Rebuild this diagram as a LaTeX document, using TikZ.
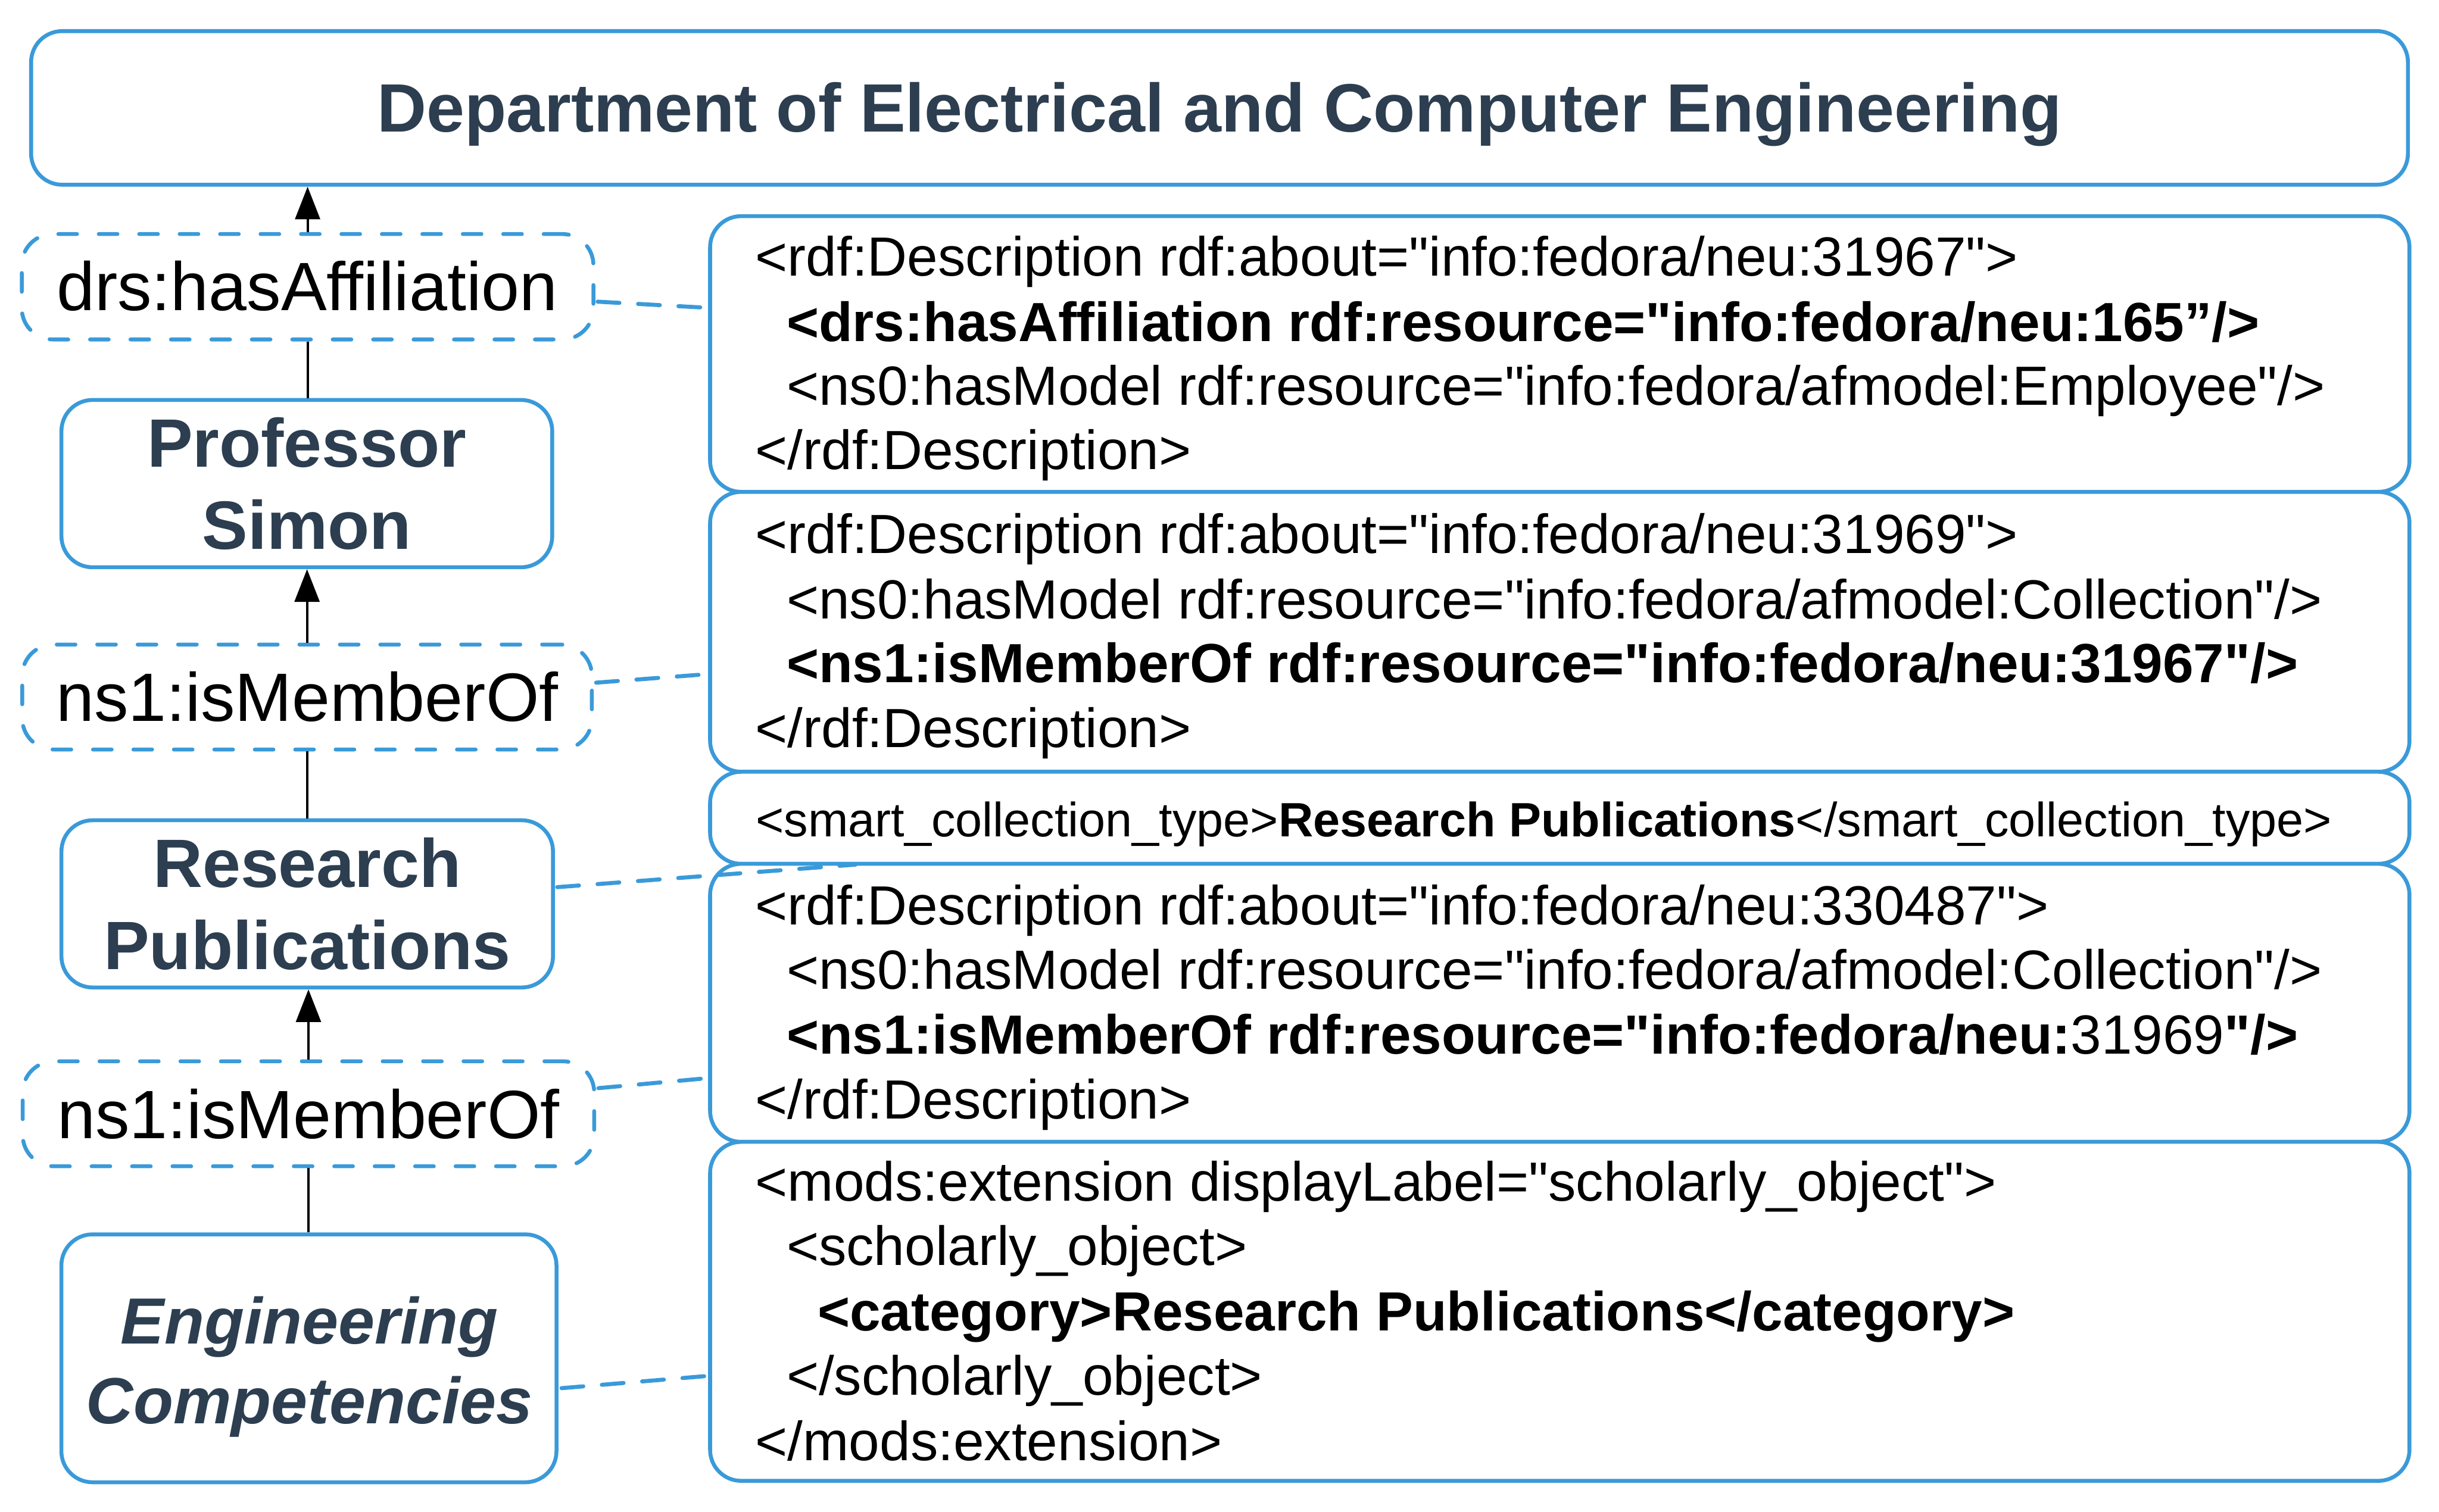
\documentclass[tikz,border=0pt]{standalone}
\usepackage{fontspec}
\setmainfont{Liberation Sans}[Ligatures=TeXOff]
\usetikzlibrary{arrows.meta,calc}
\definecolor{bl}{HTML}{3A9AD9}
\definecolor{dk}{HTML}{2C3E50}
\begin{document}
\begin{tikzpicture}[x=1pt,y=-1pt,
  box/.style={draw=bl,line width=2.5pt,rounded corners=20pt,fill=white,inner sep=0pt},
  dbox/.style={draw=bl,line width=2.5pt,rounded corners=20pt,dash pattern=on 12pt off 14pt,line cap=round,fill=white,inner sep=0pt},
  big/.style={font=\fontsize{44}{52}\selectfont,inner sep=0pt,anchor=base},
  bigit/.style={font=\fontsize{42}{50}\selectfont\bfseries\itshape,inner sep=0pt,anchor=base},
  code/.style={font=\fontsize{35.5}{41.6}\selectfont,inner sep=0pt,anchor=base west},
  smallcode/.style={font=\fontsize{31}{36}\selectfont,inner sep=0pt,anchor=base west},
  arr/.style={line width=1.5pt,-{Triangle[length=21pt,width=16pt]}},
  ln/.style={line width=1.5pt},
  conn/.style={draw=bl,line width=2.6pt,dash pattern=on 14pt off 12pt,line cap=round}]

\path[use as bounding box] (0,0) rectangle (1568,972);

% ---------- boxes ----------
\node[box,minimum width=1528pt,minimum height=98.8pt] (top) at (784,69.4) {};
\node[dbox,minimum width=367.5pt,minimum height=67.8pt] (drs) at (197.75,184.4) {};
\node[box,minimum width=315.5pt,minimum height=107.6pt] (prof) at (197.25,311) {};
\node[dbox,minimum width=366.2pt,minimum height=67.5pt] (ns1a) at (197.4,448.25) {};
\node[box,minimum width=316pt,minimum height=107.5pt] (res) at (197.5,581.25) {};
\node[dbox,minimum width=367.4pt,minimum height=67.5pt] (ns1b) at (198.3,716.25) {};
\node[box,minimum width=318.3pt,minimum height=159.4pt] (eng) at (198.6,873.5) {};

\node[box,minimum width=1092.5pt,minimum height=177.3pt] (A) at (1002.75,227.65) {};
\node[box,minimum width=1092.5pt,minimum height=180pt] (B) at (1002.75,406.3) {};
\node[box,minimum width=1092.5pt,minimum height=59.2pt] (C) at (1002.75,525.9) {};
\node[box,minimum width=1092.5pt,minimum height=178.8pt] (D) at (1002.75,644.9) {};
\node[box,minimum width=1092.5pt,minimum height=218pt] (E) at (1002.75,843.3) {};

% ---------- left texts ----------
\node[big,text=dk] (ttitle) at (784,84.7) {\bfseries Department of Electrical and Computer Engineering};
\node[big] (tdrs) at (197.5,199.5) {drs:hasAffiliation};
\node[big,text=dk] (tprof1) at (197.3,300.4) {\bfseries Professor};
\node[big,text=dk] (tprof2) at (197.3,353.3) {\bfseries Simon};
\node[big] (tns1a) at (197.5,463.8) {ns1:isMemberOf};
\node[big,text=dk] (tres1) at (197.5,570.5) {\bfseries Research};
\node[big,text=dk] (tres2) at (197.5,623.5) {\bfseries Publications};
\node[big] (tns1b) at (198.3,732) {ns1:isMemberOf};
\node[bigit,text=dk] (teng1) at (199,864.3) {Engineering};
\node[bigit,text=dk] (teng2) at (199,915.3) {Competencies};

% ---------- right texts ----------
\node[code] (a1) at (485.5,177.5) {<rdf:Description rdf:about="info:fedora/neu:31967">};
\node[code] (a2) at (505.5,219.4) {\bfseries <drs:hasAffiliation rdf:resource="info:fedora/neu:165”/>};
\node[code] (a3) at (505.5,260.6) {<ns0:hasModel rdf:resource="info:fedora/afmodel:Employee"/>};
\node[code] (a4) at (485.5,302) {</rdf:Description>};

\node[code] (b1) at (485.5,356) {<rdf:Description rdf:about="info:fedora/neu:31969">};
\node[code] (b2) at (505.5,397.8) {<ns0:hasModel rdf:resource="info:fedora/afmodel:Collection"/>};
\node[code] (b3) at (505.5,438.9) {\bfseries <ns1:isMemberOf rdf:resource="info:fedora/neu:31967"/>};
\node[code] (b4) at (485.5,480.8) {</rdf:Description>};

\node[smallcode] (c1) at (485.8,538) {<smart\_collection\_type>{\bfseries Research Publications}</smart\_collection\_type>};

\node[code] (d1) at (485.5,594.6) {<rdf:Description rdf:about="info:fedora/neu:330487">};
\node[code] (d2) at (505.5,635.9) {<ns0:hasModel rdf:resource="info:fedora/afmodel:Collection"/>};
\node[code] (d3) at (505.5,677.8) {{\bfseries <ns1:isMemberOf rdf:resource="info:fedora/neu:}31969{\bfseries "/>}};
\node[code] (d4) at (485.5,719.5) {</rdf:Description>};

\node[code] (e1) at (485.5,772.2) {<mods:extension displayLabel="scholarly\_object">};
\node[code] (e2) at (505.5,813.8) {<scholarly\_object>};
\node[code] (e3) at (525.5,855.6) {\bfseries <category>Research Publications</category>};
\node[code] (e4) at (505.5,897.2) {</scholarly\_object>};
\node[code] (e5) at (485.5,939.1) {</mods:extension>};

% ---------- vertical links ----------
\draw[arr] (drs.north) -- (drs.north |- top.south);
\draw[ln] (drs.south) -- (drs.south |- prof.north);
\draw[arr] (ns1a.north) -- (ns1a.north |- prof.south);
\draw[ln] (ns1a.south) -- (ns1a.south |- res.north);
\draw[arr] (ns1b.north) -- (ns1b.north |- res.south);
\draw[ln] (ns1b.south) -- (ns1b.south |- eng.north);

% ---------- dashed connectors ----------
\coordinate (rpend) at (550,556);
\draw[conn] ($(drs.east)+(1.5,9.6)$) -- ($(A.west)+(0,-29.7)$);
\draw[conn] ($(ns1a.east)+(1.5,-9.25)$) -- ($(B.west)+(0,27.2)$);
\draw[conn] ($(res.east)+(1.5,-10.75)$) -- (rpend);
\draw[conn] ($(ns1b.east)+(1.5,-16.5)$) -- ($(D.west)+(0,48.4)$);
\draw[conn] ($(eng.east)+(2,19.2)$) -- ($(E.west)+(0,41.5)$);
\end{tikzpicture}
\end{document}
